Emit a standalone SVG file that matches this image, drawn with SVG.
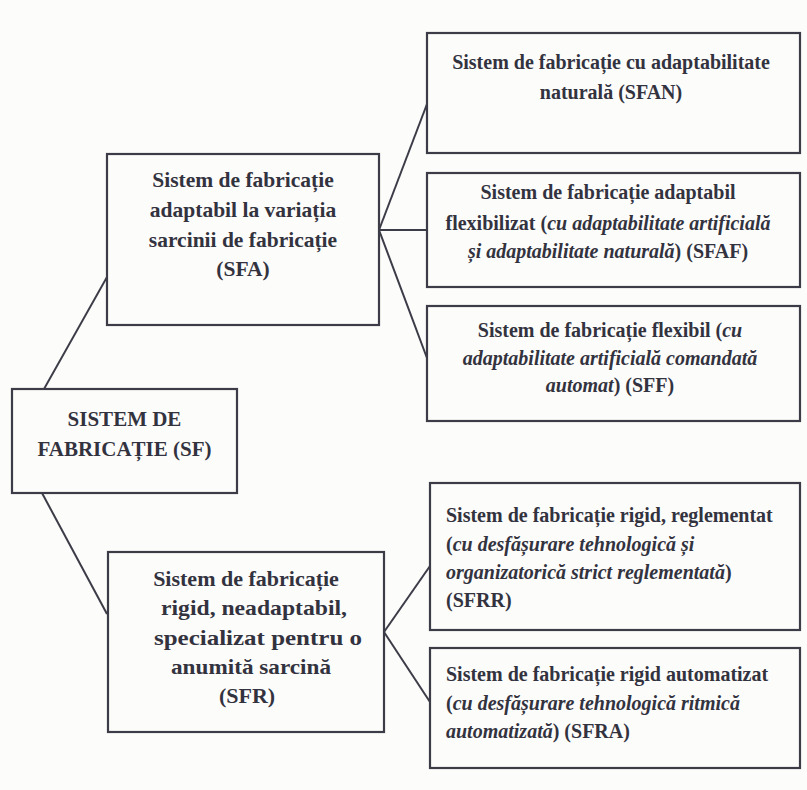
<svg xmlns="http://www.w3.org/2000/svg" width="807" height="790" viewBox="0 0 807 790">
<style>
.box{fill:none;stroke:#3c3c48;stroke-width:2.2}
.ln{fill:none;stroke:#3c3c48;stroke-width:2}
text{font-family:"Liberation Serif","Times New Roman",serif;font-weight:bold;fill:#33333f}
.l{font-size:21.5px;text-anchor:middle}
.r{font-size:20px}
.c{text-anchor:middle}
.i{font-style:italic}
</style>
<rect width="807" height="790" fill="#fcfcfa"/>
<g id="connectors">
<line class="ln" x1="44" y1="389" x2="107" y2="277"/>
<line class="ln" x1="42" y1="493" x2="107" y2="614"/>
<line class="ln" x1="379" y1="230" x2="427" y2="104"/>
<line class="ln" x1="379" y1="230" x2="427" y2="230"/>
<line class="ln" x1="379" y1="230" x2="427" y2="358"/>
<line class="ln" x1="384" y1="632" x2="430" y2="566"/>
<line class="ln" x1="384" y1="632" x2="430" y2="702"/>
</g>
<g id="SF">
<rect class="box" x="12" y="389" width="225" height="104"/>
<text class="l" x="124.5" y="426" style="font-size:21px">SISTEM DE</text>
<text class="l" x="124.5" y="456" style="font-size:21px">FABRICAȚIE (SF)</text>
</g>
<g id="SFA">
<rect class="box" x="107" y="154" width="272" height="171"/>
<text class="l" x="243" y="187">Sistem de fabricație</text>
<text class="l" x="243" y="217">adaptabil la variația</text>
<text class="l" x="243" y="247">sarcinii de fabricație</text>
<text class="l" x="243" y="276">(SFA)</text>
</g>
<g id="SFR">
<rect class="box" x="108" y="552" width="276" height="180"/>
<text class="l" x="246" y="586" style="font-size:22px">Sistem de fabricație</text>
<text class="l" x="254" y="615" style="font-size:22px" textLength="186" lengthAdjust="spacingAndGlyphs">rigid, neadaptabil,</text>
<text class="l" x="258" y="645" style="font-size:22px" textLength="208" lengthAdjust="spacingAndGlyphs">specializat pentru o</text>
<text class="l" x="251" y="674" style="font-size:22px" textLength="160" lengthAdjust="spacingAndGlyphs">anumită sarcină</text>
<text class="l" x="247" y="703" style="font-size:22px">(SFR)</text>
</g>
<g id="SFAN">
<rect class="box" x="427" y="33" width="373" height="120"/>
<text class="r c" x="611" y="69">Sistem de fabricație cu adaptabilitate</text>
<text class="r c" x="611" y="99">naturală (SFAN)</text>
</g>
<g id="SFAF">
<rect class="box" x="427" y="173" width="373" height="114"/>
<text class="r c" x="608" y="199">Sistem de fabricație adaptabil</text>
<text class="r c" x="608" y="230">flexibilizat (<tspan class="i">cu adaptabilitate artificială</tspan></text>
<text class="r c" x="608" y="258"><tspan class="i">și adaptabilitate naturală</tspan>)  (SFAF)</text>
</g>
<g id="SFF">
<rect class="box" x="427" y="306" width="373" height="115"/>
<text class="r c" x="610" y="337">Sistem de fabricație flexibil (<tspan class="i">cu</tspan></text>
<text class="r c" x="610" y="365"><tspan class="i">adaptabilitate artificială comandată</tspan></text>
<text class="r c" x="610" y="392"><tspan class="i">automat</tspan>) (SFF)</text>
</g>
<g id="SFRR">
<rect class="box" x="430" y="483" width="370" height="147"/>
<text class="r" x="446" y="522">Sistem de fabricație rigid, reglementat</text>
<text class="r" x="446" y="551">(<tspan class="i">cu desfășurare tehnologică și</tspan></text>
<text class="r" x="446" y="579"><tspan class="i">organizatorică strict reglementată</tspan>)</text>
<text class="r" x="446" y="607">(SFRR)</text>
</g>
<g id="SFRA">
<rect class="box" x="430" y="648" width="370" height="120"/>
<text class="r" x="446" y="681">Sistem de fabricație rigid automatizat</text>
<text class="r" x="446" y="710">(<tspan class="i">cu desfășurare tehnologică ritmică</tspan></text>
<text class="r" x="446" y="738"><tspan class="i">automatizată</tspan>) (SFRA)</text>
</g>
</svg>
